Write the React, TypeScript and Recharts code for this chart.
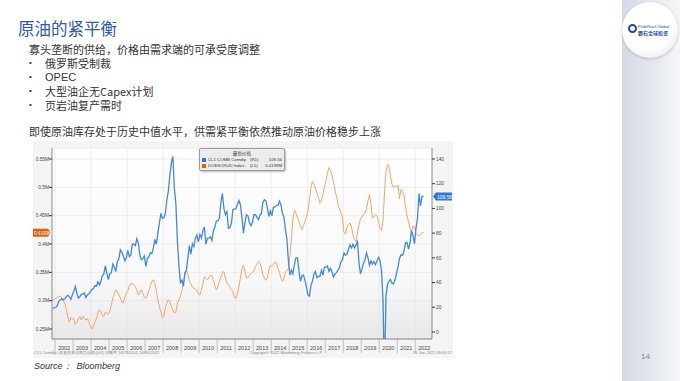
import { LineChart, Line, XAxis, YAxis, CartesianGrid, ReferenceLine, ReferenceDot } from "recharts";

// monthly points, first one is Nov 2001
const startYear = 2001;
const startMonth = 11;

// CL1 COMB Comdty (R1), USD/bbl
const wti = [
  19.4, 19.5,
  19.8, 21.5, 24.8, 26.2, 27.0, 25.8, 27.0, 28.6, 29.8, 28.5, 26.5, 30.0,
  33.0, 37.0, 31.5, 27.5, 28.5, 30.5, 30.8, 31.5, 27.8, 30.0, 31.0, 32.5,
  34.5, 35.0, 37.5, 37.0, 40.5, 38.0, 41.0, 45.5, 47.0, 53.5, 47.5, 42.5,
  47.0, 48.0, 55.0, 52.5, 49.0, 57.0, 59.0, 66.5, 64.5, 61.5, 57.5, 60.0,
  66.0, 61.0, 62.5, 71.0, 71.0, 70.0, 75.5, 72.0, 62.0, 58.5, 59.5, 61.5,
  53.0, 59.5, 61.0, 64.0, 63.5, 68.0, 75.0, 71.0, 80.0, 88.0, 96.0, 92.0,
  92.5, 96.0, 107.0, 114.0, 127.0, 137.0, 142.0, 116.0, 104.0, 74.0, 54.0, 40.0,
  42.0, 37.0, 48.0, 50.0, 60.0, 70.0, 63.0, 71.5, 69.0, 76.0, 78.5, 73.0,
  79.0, 76.0, 82.0, 85.0, 71.0, 76.0, 76.0, 77.0, 74.0, 82.0, 85.0, 90.0,
  90.0, 92.0, 105.0, 112.0, 100.0, 95.0, 97.5, 84.0, 84.5, 88.0, 99.0, 99.5,
  100.0, 103.0, 106.5, 103.0, 93.0, 80.0, 88.5, 95.0, 94.0, 88.5, 86.0, 88.5,
  95.0, 95.0, 93.0, 91.0, 94.5, 96.0, 105.0, 107.0, 106.0, 100.0, 93.5, 98.0,
  94.0, 101.0, 101.0, 102.5, 102.5, 106.0, 103.0, 96.0, 93.0, 83.0, 75.0, 57.0,
  46.0, 50.0, 47.0, 55.0, 60.0, 60.0, 50.0, 41.0, 45.5, 46.0, 42.0, 36.5,
  30.0, 29.0, 38.0, 41.0, 47.0, 49.0, 44.0, 45.0, 45.0, 50.0, 46.0, 52.5,
  52.5, 53.5, 49.0, 51.5, 48.5, 44.5, 47.0, 48.0, 50.0, 52.0, 57.0, 58.5,
  64.0, 62.0, 63.0, 67.0, 70.5, 68.0, 71.0, 68.0, 70.5, 73.0, 56.0, 47.0,
  51.0, 55.5, 58.5, 64.0, 60.0, 54.0, 57.5, 55.0, 57.0, 54.5, 57.5, 60.5,
  58.0, 50.0, 26.0, -37.0, 29.0, 38.5, 41.0, 42.5, 39.5, 39.0, 42.0, 47.5,
  52.5, 59.5, 62.5, 62.0, 65.5, 72.0, 72.5, 67.0, 72.0, 82.0, 78.0, 71.5,
  84.0, 92.0, 112.0, 102.0, 110.0, 109.56,
];

// DOESCRUD Index (L1), million barrels shown as "M"
const stocks = [
  0.300, 0.302,
  0.304, 0.306, 0.307, 0.308, 0.306, 0.300, 0.295, 0.285, 0.272, 0.262, 0.270, 0.268,
  0.268, 0.258, 0.262, 0.268, 0.272, 0.266, 0.272, 0.270, 0.266, 0.268, 0.262, 0.256,
  0.250, 0.255, 0.262, 0.268, 0.278, 0.284, 0.282, 0.274, 0.272, 0.280, 0.278, 0.276,
  0.282, 0.292, 0.305, 0.313, 0.319, 0.316, 0.310, 0.305, 0.298, 0.296, 0.306, 0.313,
  0.318, 0.326, 0.330, 0.330, 0.328, 0.325, 0.318, 0.310, 0.314, 0.319, 0.314, 0.306,
  0.304, 0.310, 0.318, 0.326, 0.334, 0.337, 0.330, 0.318, 0.301, 0.290, 0.280, 0.270,
  0.272, 0.288, 0.296, 0.302, 0.298, 0.290, 0.284, 0.278, 0.280, 0.296, 0.302, 0.307,
  0.318, 0.330, 0.344, 0.354, 0.346, 0.334, 0.330, 0.324, 0.322, 0.320, 0.318, 0.312,
  0.310, 0.318, 0.330, 0.342, 0.340, 0.337, 0.340, 0.345, 0.344, 0.336, 0.326, 0.319,
  0.324, 0.334, 0.342, 0.350, 0.351, 0.340, 0.332, 0.328, 0.324, 0.320, 0.316, 0.306,
  0.304, 0.312, 0.325, 0.340, 0.356, 0.363, 0.352, 0.340, 0.342, 0.344, 0.348, 0.350,
  0.352, 0.360, 0.365, 0.369, 0.367, 0.358, 0.345, 0.340, 0.336, 0.340, 0.355, 0.362,
  0.360, 0.364, 0.368, 0.366, 0.358, 0.350, 0.340, 0.334, 0.340, 0.350, 0.354, 0.356,
  0.380, 0.410, 0.445, 0.460, 0.455, 0.446, 0.440, 0.432, 0.426, 0.432, 0.440, 0.448,
  0.458, 0.478, 0.500, 0.510, 0.506, 0.498, 0.490, 0.482, 0.472, 0.476, 0.488, 0.500,
  0.512, 0.525, 0.535, 0.530, 0.520, 0.510, 0.495, 0.484, 0.470, 0.462, 0.456, 0.446,
  0.420, 0.418, 0.430, 0.434, 0.437, 0.430, 0.416, 0.408, 0.404, 0.420, 0.434, 0.444,
  0.448, 0.452, 0.454, 0.462, 0.476, 0.487, 0.470, 0.446, 0.448, 0.452, 0.450, 0.440,
  0.428, 0.424, 0.440, 0.490, 0.528, 0.540, 0.536, 0.520, 0.506, 0.500, 0.502, 0.500,
  0.504, 0.480, 0.496, 0.492, 0.486, 0.466, 0.450, 0.440, 0.428, 0.422, 0.432, 0.430,
  0.418, 0.416, 0.414, 0.418, 0.420, 0.4199,
];

const yearTicks = [2002, 2003, 2004, 2005, 2006, 2007, 2008, 2009, 2010, 2011, 2012, 2013, 2014, 2015, 2016, 2017, 2018, 2019, 2020, 2021, 2022];
const gridYears = [2002, 2004, 2006, 2008, 2010, 2012, 2014, 2016, 2018, 2020, 2022];
const leftTicks = [0.25, 0.3, 0.35, 0.4, 0.45, 0.5, 0.55];
const rightTicks = [0, 20, 40, 60, 80, 100, 120, 140];
const bullets = ["俄罗斯受制裁", "OPEC", "大型油企无Capex计划", "页岩油复产需时"];

const rows = wti.map((v, i) => ({
  t: startYear + (startMonth - 1 + i + 0.5) / 12,
  wti: v,
  stock: stocks[i],
}));

const xMin = 2001.83;
const xMax = 2022.93;
const blue = "#4189db";
const orange = "#f3a56c";
const cjk = "'Noto Sans CJK SC', 'Noto Sans', sans-serif";
const mono = "'Liberation Sans', Arial, sans-serif";

function YearTick({ x, y, payload }: any) {
  return (
    <g>
      <line x1={x} y1={y} x2={x} y2={y + 14} stroke="#9c9c9c" strokeWidth={0.6} />
      <text x={x + 9} y={y + 10.5} textAnchor="middle" fontSize={5.5} fill="#444" fontFamily={mono}>
        {payload.value}
      </text>
    </g>
  );
}

function BlueTag({ cx, cy }: any) {
  return (
    <g>
      <path d={`M${cx + 1},${cy} L${cx + 4},${cy - 4} L${cx + 20},${cy - 4} L${cx + 20},${cy + 4} L${cx + 4},${cy + 4} Z`} fill="#2f78d2" />
      <text x={cx + 5} y={cy + 2} fontSize={5} fill="#fff" fontFamily={mono}>109.56</text>
    </g>
  );
}

function OrangeTag({ cx, cy }: any) {
  return (
    <g>
      <path d={`M${cx - 1},${cy} L${cx - 4},${cy - 4} L${cx - 19},${cy - 4} L${cx - 19},${cy + 4} L${cx - 4},${cy + 4} Z`} fill="#e0600c" />
      <text x={cx - 18} y={cy + 2} fontSize={4.6} fill="#fff" fontFamily={mono}>0.4199M</text>
    </g>
  );
}

function Legend() {
  const row = { display: "flex", alignItems: "center", height: 6, lineHeight: "6px", fontSize: 4.3, color: "#333", fontFamily: mono, whiteSpace: "nowrap" as const };
  return (
    <div style={{ position: "absolute", left: 199, top: 148, width: 86, height: 23, background: "#ececec", border: "1px solid #9a9a9a", borderRadius: 2, boxShadow: "1px 1px 2px rgba(0,0,0,0.25)", boxSizing: "border-box", padding: "1px 2px", overflow: "hidden" }}>
      <div style={{ textAlign: "center", fontSize: 4.6, height: 7, lineHeight: "7px", color: "#444", fontFamily: cjk, whiteSpace: "nowrap" }}>最新价格</div>
      <div style={row}>
        <span style={{ width: 4, height: 4, background: "#2f78d2", marginRight: 2, flex: "none" }} />
        <span style={{ width: 42, flex: "none" }}>CL1 COMB Comdty</span>
        <span style={{ width: 12, flex: "none" }}>(R1)</span>
        <span style={{ flex: 1, textAlign: "right" }}>109.56</span>
      </div>
      <div style={row}>
        <span style={{ width: 4, height: 4, background: "#e0600c", marginRight: 2, flex: "none" }} />
        <span style={{ width: 42, flex: "none" }}>DOESCRUD Index</span>
        <span style={{ width: 12, flex: "none" }}>(L1)</span>
        <span style={{ flex: 1, textAlign: "right" }}>0.4199M</span>
      </div>
    </div>
  );
}

export default function App() {
  return (
    <div style={{ position: "absolute", left: 0, top: 0, width: 680, height: 381, background: "#fff", overflow: "hidden", fontFamily: cjk }}>
      {/* right decoration panel */}
      <div style={{ position: "absolute", left: 622, top: 0, width: 58, height: 381, background: "linear-gradient(90deg, #d6dae5 0%, #e6e9ef 60%, #f5f6f8 100%)" }} />
      <div style={{ position: "absolute", left: 622, top: 2, width: 56, height: 56, borderRadius: "50%", background: "radial-gradient(circle at 45% 40%, #ffffff 55%, #e6e7ea 85%, #cfd1d6 100%)", boxShadow: "0 1px 3px rgba(0,0,0,0.2)" }}>
        <div style={{ position: "absolute", left: 6, top: 22, width: 9, height: 9, borderRadius: "50%", border: "2px solid #1f4a9a", boxSizing: "border-box" }} />
        <div style={{ position: "absolute", left: 16, top: 22, fontSize: 4, color: "#1f4a9a", fontFamily: mono, whiteSpace: "nowrap" }}>PrideRock Global</div>
        <div style={{ position: "absolute", left: 16, top: 27, fontSize: 5, color: "#1f4a9a", whiteSpace: "nowrap", fontWeight: 700 }}>磐石全球投资</div>
      </div>
      <div style={{ position: "absolute", left: 641, top: 352, fontSize: 8, color: "#888", fontFamily: mono }}>14</div>

      {/* slide text */}
      <div style={{ position: "absolute", left: 18, top: 18, fontSize: 16.5, lineHeight: "20px", color: "#2e5aa8", whiteSpace: "nowrap" }}>原油的紧平衡</div>
      <div style={{ position: "absolute", left: 29, top: 42, fontSize: 11, color: "#333", whiteSpace: "nowrap", lineHeight: "14px" }}>
        <div>寡头垄断的供给，价格由需求端的可承受度调整</div>
        {bullets.map((b) => (
          <div key={b} style={{ display: "flex", height: 14 }}>
            <span style={{ width: 16, flex: "none", fontFamily: mono, fontSize: 8 }}>•</span>
            <span style={/^[A-Za-z]+$/.test(b) ? { fontFamily: mono, fontSize: 11 } : undefined}>{b}</span>
          </div>
        ))}
        <div style={{ marginTop: 12 }}>即使原油库存处于历史中值水平，供需紧平衡依然推动原油价格稳步上涨</div>
      </div>

      {/* chart image */}
      <div style={{ position: "absolute", left: 33, top: 141, width: 420, height: 217, background: "#f4f4f4" }} />
      <div style={{ position: "absolute", left: 33, top: 140 }}>
        <LineChart width={420} height={220} data={rows} margin={{ top: 8, right: 0, bottom: 0, left: 0 }}>
          <defs>
            <linearGradient id="plotBg" x1="0" y1="0" x2="0" y2="1">
              <stop offset="0%" stopColor="#ffffff" />
              <stop offset="70%" stopColor="#f8f8f8" />
              <stop offset="100%" stopColor="#e8e8e8" />
            </linearGradient>
          </defs>
          <CartesianGrid yAxisId="left" vertical={false} stroke="#e2e2e2" strokeWidth={0.6} fill="url(#plotBg)" />
          <XAxis
            type="number"
            dataKey="t"
            domain={[xMin, xMax]}
            ticks={yearTicks}
            tick={<YearTick />}
            tickSize={0}
            tickMargin={0}
            tickLine={false}
            height={21}
            axisLine={{ stroke: "#6f6f6f", strokeWidth: 0.8 }}
            allowDataOverflow
            interval={0}
          />
          <YAxis
            yAxisId="left"
            orientation="left"
            width={19}
            domain={[0.2324, 0.5694]}
            ticks={leftTicks}
            tickFormatter={(v: number) => v.toFixed(2).replace(/0$/, "") + "M"}
            tick={{ fontSize: 4.8, fill: "#444", fontFamily: mono }}
            tickSize={3}
            tickMargin={0}
            tickLine={{ stroke: "#333" }}
            axisLine={{ stroke: "#6f6f6f", strokeWidth: 0.8 }}
            allowDataOverflow
            interval={0}
          />
          <YAxis
            yAxisId="right"
            orientation="right"
            width={21}
            domain={[-5.66, 148.9]}
            ticks={rightTicks}
            tick={{ fontSize: 4.8, fill: "#444", fontFamily: mono, textAnchor: "start" }}
            tickSize={3}
            tickMargin={1}
            tickLine={{ stroke: "#333" }}
            axisLine={{ stroke: "#6f6f6f", strokeWidth: 0.8 }}
            allowDataOverflow
            interval={0}
          />
          {gridYears.map((yr) => (
            <ReferenceLine key={yr} yAxisId="left" x={yr} stroke="#e2e2e2" strokeWidth={0.6} />
          ))}
          <Line yAxisId="left" type="linear" dataKey="stock" stroke={orange} strokeWidth={1} dot={false} isAnimationActive={false} />
          <Line yAxisId="right" type="linear" dataKey="wti" stroke={blue} strokeWidth={1.3} dot={false} isAnimationActive={false} />
          <ReferenceDot yAxisId="right" x={xMax} y={109.56} r={0} ifOverflow="visible" shape={(p: any) => <BlueTag {...p} />} />
          <ReferenceDot yAxisId="left" x={xMin} y={0.4199} r={0} ifOverflow="visible" shape={(p: any) => <OrangeTag {...p} />} />
        </LineChart>
      </div>
      <Legend />

      {/* chart footer */}
      <div style={{ position: "absolute", left: 34, top: 350, width: 418, fontSize: 4, color: "#8a8a8a", fontFamily: mono, display: "flex", justifyContent: "space-between", whiteSpace: "nowrap" }}>
        <span>CL1 Comdty (前复权原油期货连续合约) 日频率 16/11/2001-16/06/2022</span>
        <span>Copyright® 2022 Bloomberg Finance L.P.</span>
        <span>16-Jun-2022 09:00:17</span>
      </div>
      <div style={{ position: "absolute", left: 34, top: 360, fontSize: 9, fontStyle: "italic", color: "#333", fontFamily: mono, whiteSpace: "nowrap" }}>
        Source：&nbsp;&nbsp;Bloomberg
      </div>
    </div>
  );
}
